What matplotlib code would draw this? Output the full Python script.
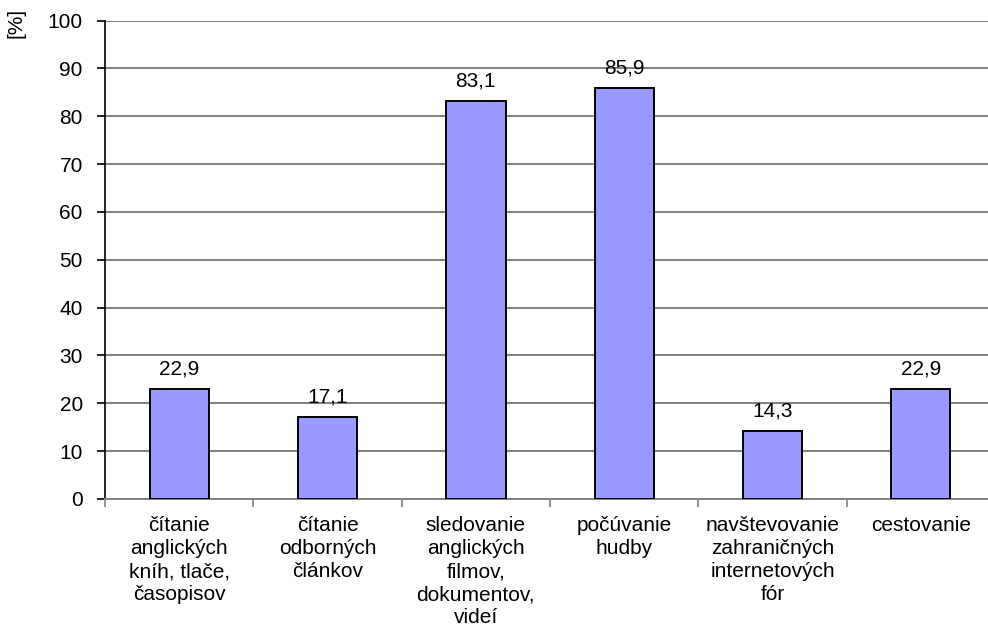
import numpy as np
import matplotlib
matplotlib.use("Agg")
from matplotlib import pyplot as plt

categories = ["čítanie\nanglických\nkníh, tlače,\nčasopisov",
              "čítanie\nodborných\nčlánkov",
              "sledovanie\nanglických\nfilmov,\ndokumentov,\nvideí",
              "počúvanie\nhudby",
              "navštevovanie\nzahraničných\ninternetových\nfór",
              "cestovanie"]
values = [22.9, 17.1, 83.1, 85.9, 14.3, 22.9]
yticks = [0, 10, 20, 30, 40, 50, 60, 70, 80, 90, 100]

plt.rcParams["font.family"] = ["Liberation Sans", "DejaVu Sans"]
fs = 15

fig = plt.figure(figsize=(9.88, 6.32), dpi=100)
ax = fig.add_axes([105/988, 1-499/632, 890/988, 478.5/632])

x = np.arange(len(values))
ax.set_axisbelow(True)
ax.yaxis.grid(True, color="#808080", linewidth=1.4)
ax.bar(x, values, width=0.4, color="#9999ff", edgecolor="black", linewidth=1.4, zorder=3)
for xi, v in zip(x, values):
    ax.text(xi, v + 2.2, f"{v:.1f}".replace(".", ","), ha="center", va="bottom", fontsize=fs)

ax.set_xlim(-0.5, len(values) - 0.5)
ax.set_ylim(0, 100)
ax.set_yticks(yticks)
ax.set_yticklabels([str(t) for t in yticks], fontsize=fs)
ax.set_xticks(x)
ax.set_xticklabels(categories, fontsize=fs, linespacing=1.28, va="top")
ax.set_xticks(np.arange(len(values) + 1) - 0.5, minor=True)
ax.tick_params(axis="x", which="major", length=0, pad=12)
ax.tick_params(axis="x", which="minor", length=6, width=1.2, color="#808080")
ax.tick_params(axis="y", length=6, width=1.2, pad=10)

for s in ["top", "right"]:
    ax.spines[s].set_visible(False)
ax.spines["left"].set_linewidth(1.2)
ax.spines["bottom"].set_color("#808080")
ax.spines["bottom"].set_linewidth(1.4)

# y-axis unit in the top-left corner
fig.text(16/988, 1-23/632, "[%]", rotation=90, ha="center", va="center", fontsize=fs)

fig.savefig("out.png", dpi=100)
